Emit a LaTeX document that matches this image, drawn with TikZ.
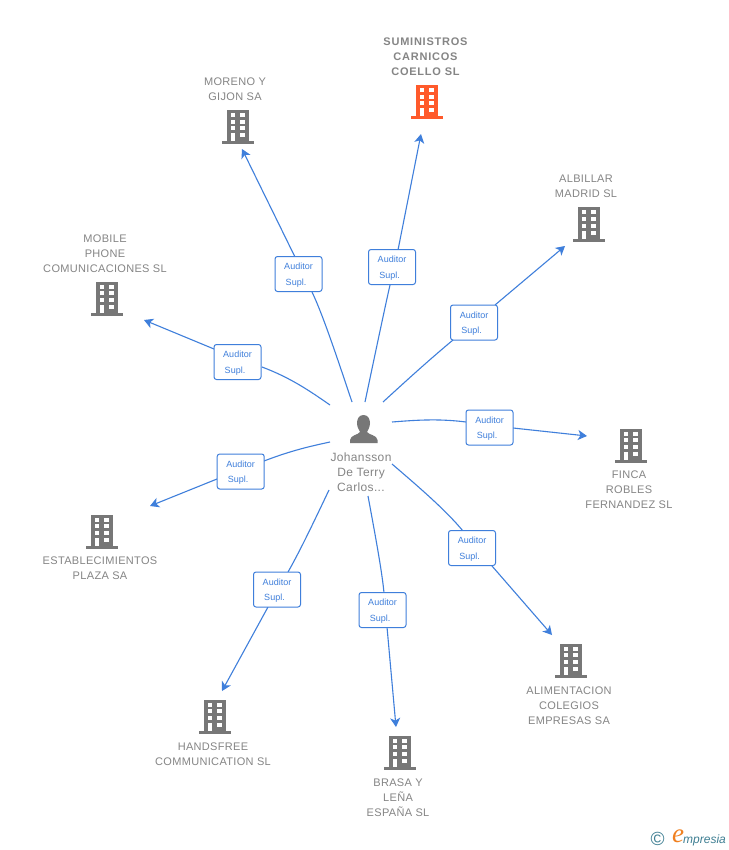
\documentclass[tikz,border=0pt]{standalone}
\usepackage{fontspec}
\setmainfont{Liberation Sans}
\newfontfamily\logofont{Liberation Serif}
\usetikzlibrary{arrows.meta,backgrounds,calc}
\definecolor{lnk}{HTML}{3F7FDB}
\definecolor{bldg}{HTML}{777777}
\definecolor{hot}{HTML}{FF5A2B}
\definecolor{lab}{HTML}{858585}
\definecolor{teal1}{HTML}{3F7F93}
\definecolor{org}{HTML}{F08020}
\newcommand{\rolelabel}{\rule{0pt}{9pt}Auditor\\Supl.\kern5pt}
\newcommand{\curvelink}[3]{\draw[conn] (#1) .. controls ($(#1)!0.5!($(#2)!-0.6!(#3)$)$) and ($(#2)!-0.6!(#3)$) .. (#2);}
\tikzset{
  x=1pt,y=-1pt,
  building/.pic={
    \fill[pic actions] (-11,-16.5) rectangle (11,15);
    \fill[pic actions] (-16,14.5) rectangle (15.5,17.5);
    \foreach \yy in {-13.5,-7,-0.5}{
      \fill[white] (-7.3,\yy) rectangle (-2.7,\yy+4);
      \fill[white] (2,\yy) rectangle (6.7,\yy+4);
    }
    \fill[white] (-7.3,6.5) rectangle (-2.7,14.5);
    \fill[white] (2,6.5) rectangle (6.7,10.5);
  },
  co/.style={font=\fontsize{11}{15}\selectfont\addfontfeatures{LetterSpace=3},text=lab,align=center,inner sep=0pt},
  rolebox/.style={draw=lnk,fill=white,rounded corners=2.5pt,line width=1pt,minimum width=47,minimum height=35,inner sep=0pt,
    align=center,text=lnk,font=\fontsize{9}{15.5}\selectfont},
  conn/.style={draw=lnk,line width=1.1pt},
  arr/.style={conn,-{Stealth[length=9pt,width=10pt,inset=2.5pt]}},
}
\begin{document}
\begin{tikzpicture}
\useasboundingbox (0,0) rectangle (728,850);
% company icons
\pic[fill=hot] (b0) at (427,102) {building};
\pic[fill=bldg] (b1) at (238,127) {building};
\pic[fill=bldg] (b2) at (589,224) {building};
\pic[fill=bldg] (b3) at (107,298) {building};
\pic[fill=bldg] (b4) at (631,445) {building};
\pic[fill=bldg] (b5) at (102,531) {building};
\pic[fill=bldg] (b6) at (571,660) {building};
\pic[fill=bldg] (b7) at (215,716) {building};
\pic[fill=bldg] (b8) at (400,752) {building};
% company labels
\node[co,font=\fontsize{11}{15}\selectfont\bfseries\addfontfeatures{LetterSpace=7}] (t0) at (425.5,56.6) {SUMINISTROS\\CARNICOS\\COELLO SL};
\node[co] (t1) at (235,89.2) {MORENO Y\\GIJON SA};
\node[co] (t2) at (586,186.2) {ALBILLAR\\MADRID SL};
\node[co] (t3) at (105,253.7) {MOBILE\\PHONE\\COMUNICACIONES SL};
\node[co] (t4) at (629,489.7) {FINCA\\ROBLES\\FERNANDEZ SL};
\node[co] (t5) at (100,568.2) {ESTABLECIMIENTOS\\PLAZA SA};
\node[co] (t6) at (569,705.7) {ALIMENTACION\\COLEGIOS\\EMPRESAS SA};
\node[co] (t7) at (213,754.2) {HANDSFREE\\COMMUNICATION SL};
\node[co] (t8) at (398,797.7) {BRASA Y\\LEÑA\\ESPAÑA SL};
% person
\node[co,font=\fontsize{12}{15}\selectfont\addfontfeatures{LetterSpace=3}] (p) at (361,472.3) {Johansson\\De Terry\\Carlos...};
\fill[bldg] (363.5,415) .. controls (368,415) and (370,419) .. (370,423)
  .. controls (370,427) and (368,430) .. (367,432)
  .. controls (369,435) and (377,435) .. (377.5,440) -- (377.5,443) -- (350,443) -- (350,440)
  .. controls (350.5,435) and (358,435) .. (360,432)
  .. controls (359,430) and (357,427) .. (357,423)
  .. controls (357,419) and (359,415) .. (363.5,415) -- cycle;
% role boxes
\node[rolebox] (r1) at (298.5,274) {\rolelabel};
\node[rolebox] (r0) at (392,267) {\rolelabel};
\node[rolebox] (r2) at (474,322.5) {\rolelabel};
\node[rolebox] (r3) at (237.5,362) {\rolelabel};
\node[rolebox] (r4) at (489.5,427.5) {\rolelabel};
\node[rolebox] (r5) at (240.7,471.5) {\rolelabel};
\node[rolebox] (r6) at (472,548) {\rolelabel};
\node[rolebox] (r7) at (277,589.5) {\rolelabel};
\node[rolebox] (r8) at (382.5,610) {\rolelabel};
% connector points: start at person, entry and exit of box, tip
\coordinate (s0) at (365,402); \coordinate (a0) at (390,285); \coordinate (d0) at (398,250); \coordinate (e0) at (421,134);
\coordinate (s1) at (352,402); \coordinate (a1) at (312,292); \coordinate (d1) at (295,257); \coordinate (e1) at (242,149);
\coordinate (s2) at (383,402); \coordinate (a2) at (453,340); \coordinate (d2) at (495,305); \coordinate (e2) at (565,246);
\coordinate (s3) at (330,405); \coordinate (a3) at (262,367); \coordinate (d3) at (214,349); \coordinate (e3) at (144,320);
\coordinate (s4) at (392,422); \coordinate (a4) at (466,422); \coordinate (d4) at (513,428); \coordinate (e4) at (587,436);
\coordinate (s5) at (330,442); \coordinate (a5) at (264,461); \coordinate (d5) at (217,479); \coordinate (e5) at (150,506);
\coordinate (s6) at (392,464); \coordinate (a6) at (463,531); \coordinate (d6) at (492,566); \coordinate (e6) at (552,635);
\coordinate (s7) at (329,490); \coordinate (a7) at (288,572); \coordinate (d7) at (268,607); \coordinate (e7) at (222,691);
\coordinate (s8) at (368,496); \coordinate (a8) at (384,593); \coordinate (d8) at (387,627); \coordinate (e8) at (396,727);
\begin{scope}[on background layer]
\fill[white] (0,0) rectangle (728,850);
\foreach \i in {0,...,8}{
  \curvelink{s\i}{a\i}{d\i}
  \draw[arr] (d\i) -- (e\i);
}
\end{scope}
% logo
\node[inner sep=0pt,text=teal1,font=\fontsize{19}{19}\selectfont] (lc) at (657.5,839) {©};
\node[inner sep=0pt,text=org,font=\logofont\fontsize{27}{27}\selectfont\itshape] (le) at (678,836) {e};
\node[inner sep=0pt,anchor=west,text=teal1,font=\fontsize{12}{13}\selectfont\itshape] (lm) at (683,840) {mpresia};
\end{tikzpicture}
\end{document}
